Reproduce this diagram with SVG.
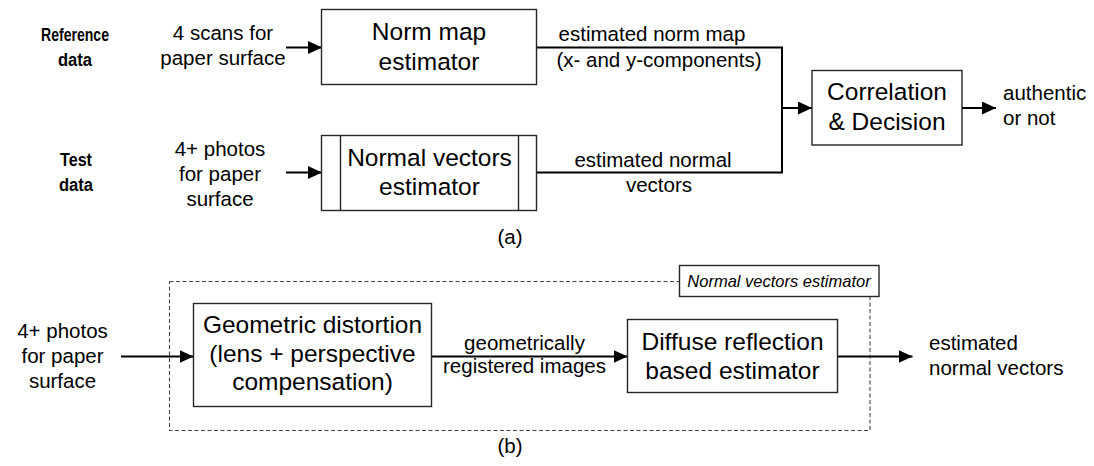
<svg xmlns="http://www.w3.org/2000/svg" width="1094" height="466" viewBox="0 0 1094 466">
<style>
text{font-family:"Liberation Sans",Arial,sans-serif;fill:#000}
.big{font-size:24.5px;text-anchor:middle}
.lab{font-size:20.5px}
.mid{text-anchor:middle}
.bold{font-size:18px;font-weight:bold;text-anchor:middle}
.ital{font-size:16.5px;font-style:italic;text-anchor:middle}
.box{fill:#fff;stroke:#262626;stroke-width:1.4}
.con{fill:none;stroke:#000;stroke-width:2}
.dash{fill:none;stroke:#444;stroke-width:1.1;stroke-dasharray:4 2.5}
</style>
<defs>
<marker id="ah" markerUnits="userSpaceOnUse" markerWidth="14" markerHeight="13" refX="14" refY="6.5" orient="auto">
<path d="M0,0 L14,6.5 L0,13 z" fill="#000"/>
</marker>
</defs>
<rect width="1094" height="466" fill="#fff"/>

<g id="side-labels">
<text class="bold" x="75" y="41" textLength="68" lengthAdjust="spacingAndGlyphs">Reference</text>
<text class="bold" x="75" y="66" textLength="34" lengthAdjust="spacingAndGlyphs">data</text>
<text class="bold" x="76" y="166" textLength="32" lengthAdjust="spacingAndGlyphs">Test</text>
<text class="bold" x="76" y="191" textLength="34" lengthAdjust="spacingAndGlyphs">data</text>
</g>

<g id="dashed-group">
<rect class="dash" x="169.5" y="281.5" width="700.5" height="149"/>
<rect class="box" x="679.5" y="265.5" width="199.5" height="31"/>
<text class="ital" x="779" y="286.5">Normal vectors estimator</text>
</g>

<g id="connectors">
<line class="con" x1="286" y1="47.5" x2="322" y2="47.5" marker-end="url(#ah)"/>
<line class="con" x1="286" y1="172.5" x2="322" y2="172.5" marker-end="url(#ah)"/>
<polyline class="con" points="537,47.5 782,47.5 782,172.5 537,172.5"/>
<line class="con" x1="782" y1="108" x2="812" y2="108" marker-end="url(#ah)"/>
<line class="con" x1="962" y1="108" x2="996" y2="108" marker-end="url(#ah)"/>
<line class="con" x1="121" y1="356.5" x2="193.5" y2="356.5" marker-end="url(#ah)"/>
<line class="con" x1="431.5" y1="356.5" x2="627.5" y2="356.5" marker-end="url(#ah)"/>
<line class="con" x1="837.5" y1="356.5" x2="912.5" y2="356.5" marker-end="url(#ah)"/>
</g>

<g id="in-ref">
<text class="lab mid" x="223" y="40">4 scans for</text>
<text class="lab mid" x="223" y="65">paper surface</text>
</g>
<g id="in-test">
<text class="lab mid" x="220" y="156">4+ photos</text>
<text class="lab mid" x="220" y="181">for paper</text>
<text class="lab mid" x="220" y="206">surface</text>
</g>

<g id="norm-map">
<rect class="box" x="321.5" y="9.5" width="215" height="75"/>
<text class="big" x="429" y="39.5">Norm map</text>
<text class="big" x="429" y="70">estimator</text>
</g>

<g id="normal-vectors">
<rect class="box" x="321.5" y="135.5" width="215" height="75"/>
<line x1="340.5" y1="135.5" x2="340.5" y2="210.5" stroke="#262626" stroke-width="1.4"/>
<line x1="518.5" y1="135.5" x2="518.5" y2="210.5" stroke="#262626" stroke-width="1.4"/>
<text class="big" x="429.5" y="165.5">Normal vectors</text>
<text class="big" x="429.5" y="195">estimator</text>
</g>

<g id="top-line-labels">
<text class="lab mid" x="652" y="41">estimated norm map</text>
<text class="lab mid" x="659" y="66.5">(x- and y-components)</text>
<text class="lab mid" x="653" y="166.5">estimated normal</text>
<text class="lab mid" x="659" y="191.5">vectors</text>
</g>

<g id="correlation">
<rect class="box" x="812" y="70.5" width="150" height="74.5"/>
<text class="big" x="887" y="99.5">Correlation</text>
<text class="big" x="887" y="129.5">&amp; Decision</text>
</g>

<g id="out-a">
<text class="lab" x="1003" y="100">authentic</text>
<text class="lab" x="1003" y="125">or not</text>
</g>

<text class="lab mid" x="510" y="244">(a)</text>

<g id="in-b">
<text class="lab mid" x="62.5" y="338">4+ photos</text>
<text class="lab mid" x="62.5" y="363">for paper</text>
<text class="lab mid" x="62.5" y="388">surface</text>
</g>

<g id="geometric">
<rect class="box" x="193.5" y="303.5" width="238" height="103"/>
<text class="big" x="312.5" y="332.5">Geometric distortion</text>
<text class="big" x="312.5" y="361.5">(lens + perspective</text>
<text class="big" x="312.5" y="390">compensation)</text>
</g>

<g id="mid-label">
<text class="lab mid" x="524.5" y="349.5">geometrically</text>
<text class="lab mid" x="524.5" y="373">registered images</text>
</g>

<g id="diffuse">
<rect class="box" x="627.5" y="319.5" width="210" height="73"/>
<text class="big" x="732.5" y="350">Diffuse reflection</text>
<text class="big" x="732.5" y="378.5">based estimator</text>
</g>

<g id="out-b">
<text class="lab" x="929" y="349.5">estimated</text>
<text class="lab" x="929" y="375">normal vectors</text>
</g>

<text class="lab mid" x="510" y="453">(b)</text>
</svg>
